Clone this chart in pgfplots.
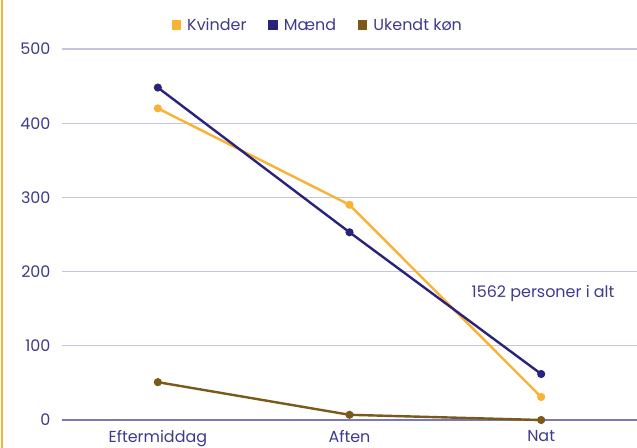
\documentclass[border=0pt]{standalone}
\usepackage{fontspec}
\setmainfont{Poppins}
\usepackage{pgfplots}
\pgfplotsset{compat=1.18}
\definecolor{kv}{HTML}{F9B233}
\definecolor{md}{HTML}{29237B}
\definecolor{uk}{HTML}{7A5A16}
\definecolor{txt}{HTML}{3E3A8E}
\definecolor{grd}{HTML}{C6C4E0}
\definecolor{zl}{HTML}{7B78B6}
\begin{document}
\begin{tikzpicture}[x=1bp,y=1bp]
\useasboundingbox (-62,-28) rectangle (575,420);
\draw[kv, line width=2bp] (-60,-28) -- (-60,420);
\begin{axis}[
  at={(0,0)}, anchor=south west,
  scale only axis, width=575bp, height=371bp,
  xmin=-0.5, xmax=2.5, ymin=0, ymax=500,
  xtick={0,1,2}, xticklabels={Eftermiddag,Aften,Nat},
  ytick={0,100,200,300,400,500},
  ymajorgrids, grid style={grd, line width=1.2bp},
  axis x line=bottom, axis y line=left,
  x axis line style={zl, line width=1.4bp, -},
  y axis line style={draw=none},
  major tick length=0pt,
  tick label style={font=\fontsize{16}{18}\selectfont, text=txt},
  /pgf/number format/assume math mode=true,
  yticklabel style={xshift=-8bp},
  xticklabel style={yshift=-7bp},
  legend columns=3,
  legend style={at={(rel axis cs:0.445,1)}, anchor=south, yshift=13bp, draw=none, fill=none,
    font=\fontsize{16}{18}\selectfont, text=txt,
    /tikz/every odd column/.append style={column sep=4bp},
    /tikz/every even column/.append style={column sep=20bp}},
  legend image code/.code={\fill[#1] (0bp,-3.5bp) rectangle (7bp,3.5bp);},
  every axis plot/.append style={line width=2.4bp, mark=*, mark size=2.8bp},
  clip=false,
]
\addplot[kv, mark options={fill=kv}] coordinates {(0,420) (1,290) (2,31)};
\addlegendentry{Kvinder}
\addplot[md, mark options={fill=md}] coordinates {(0,448) (1,253) (2,62)};
\addlegendentry{Mænd}
\addplot[uk, mark options={fill=uk}] coordinates {(0,51) (1,7) (2,0)};
\addlegendentry{Ukendt køn}
\node[text=txt, font=\fontsize{16}{18}\selectfont] at (axis cs:2.01,171) {1562 personer i alt};
\end{axis}
\end{tikzpicture}
\end{document}
